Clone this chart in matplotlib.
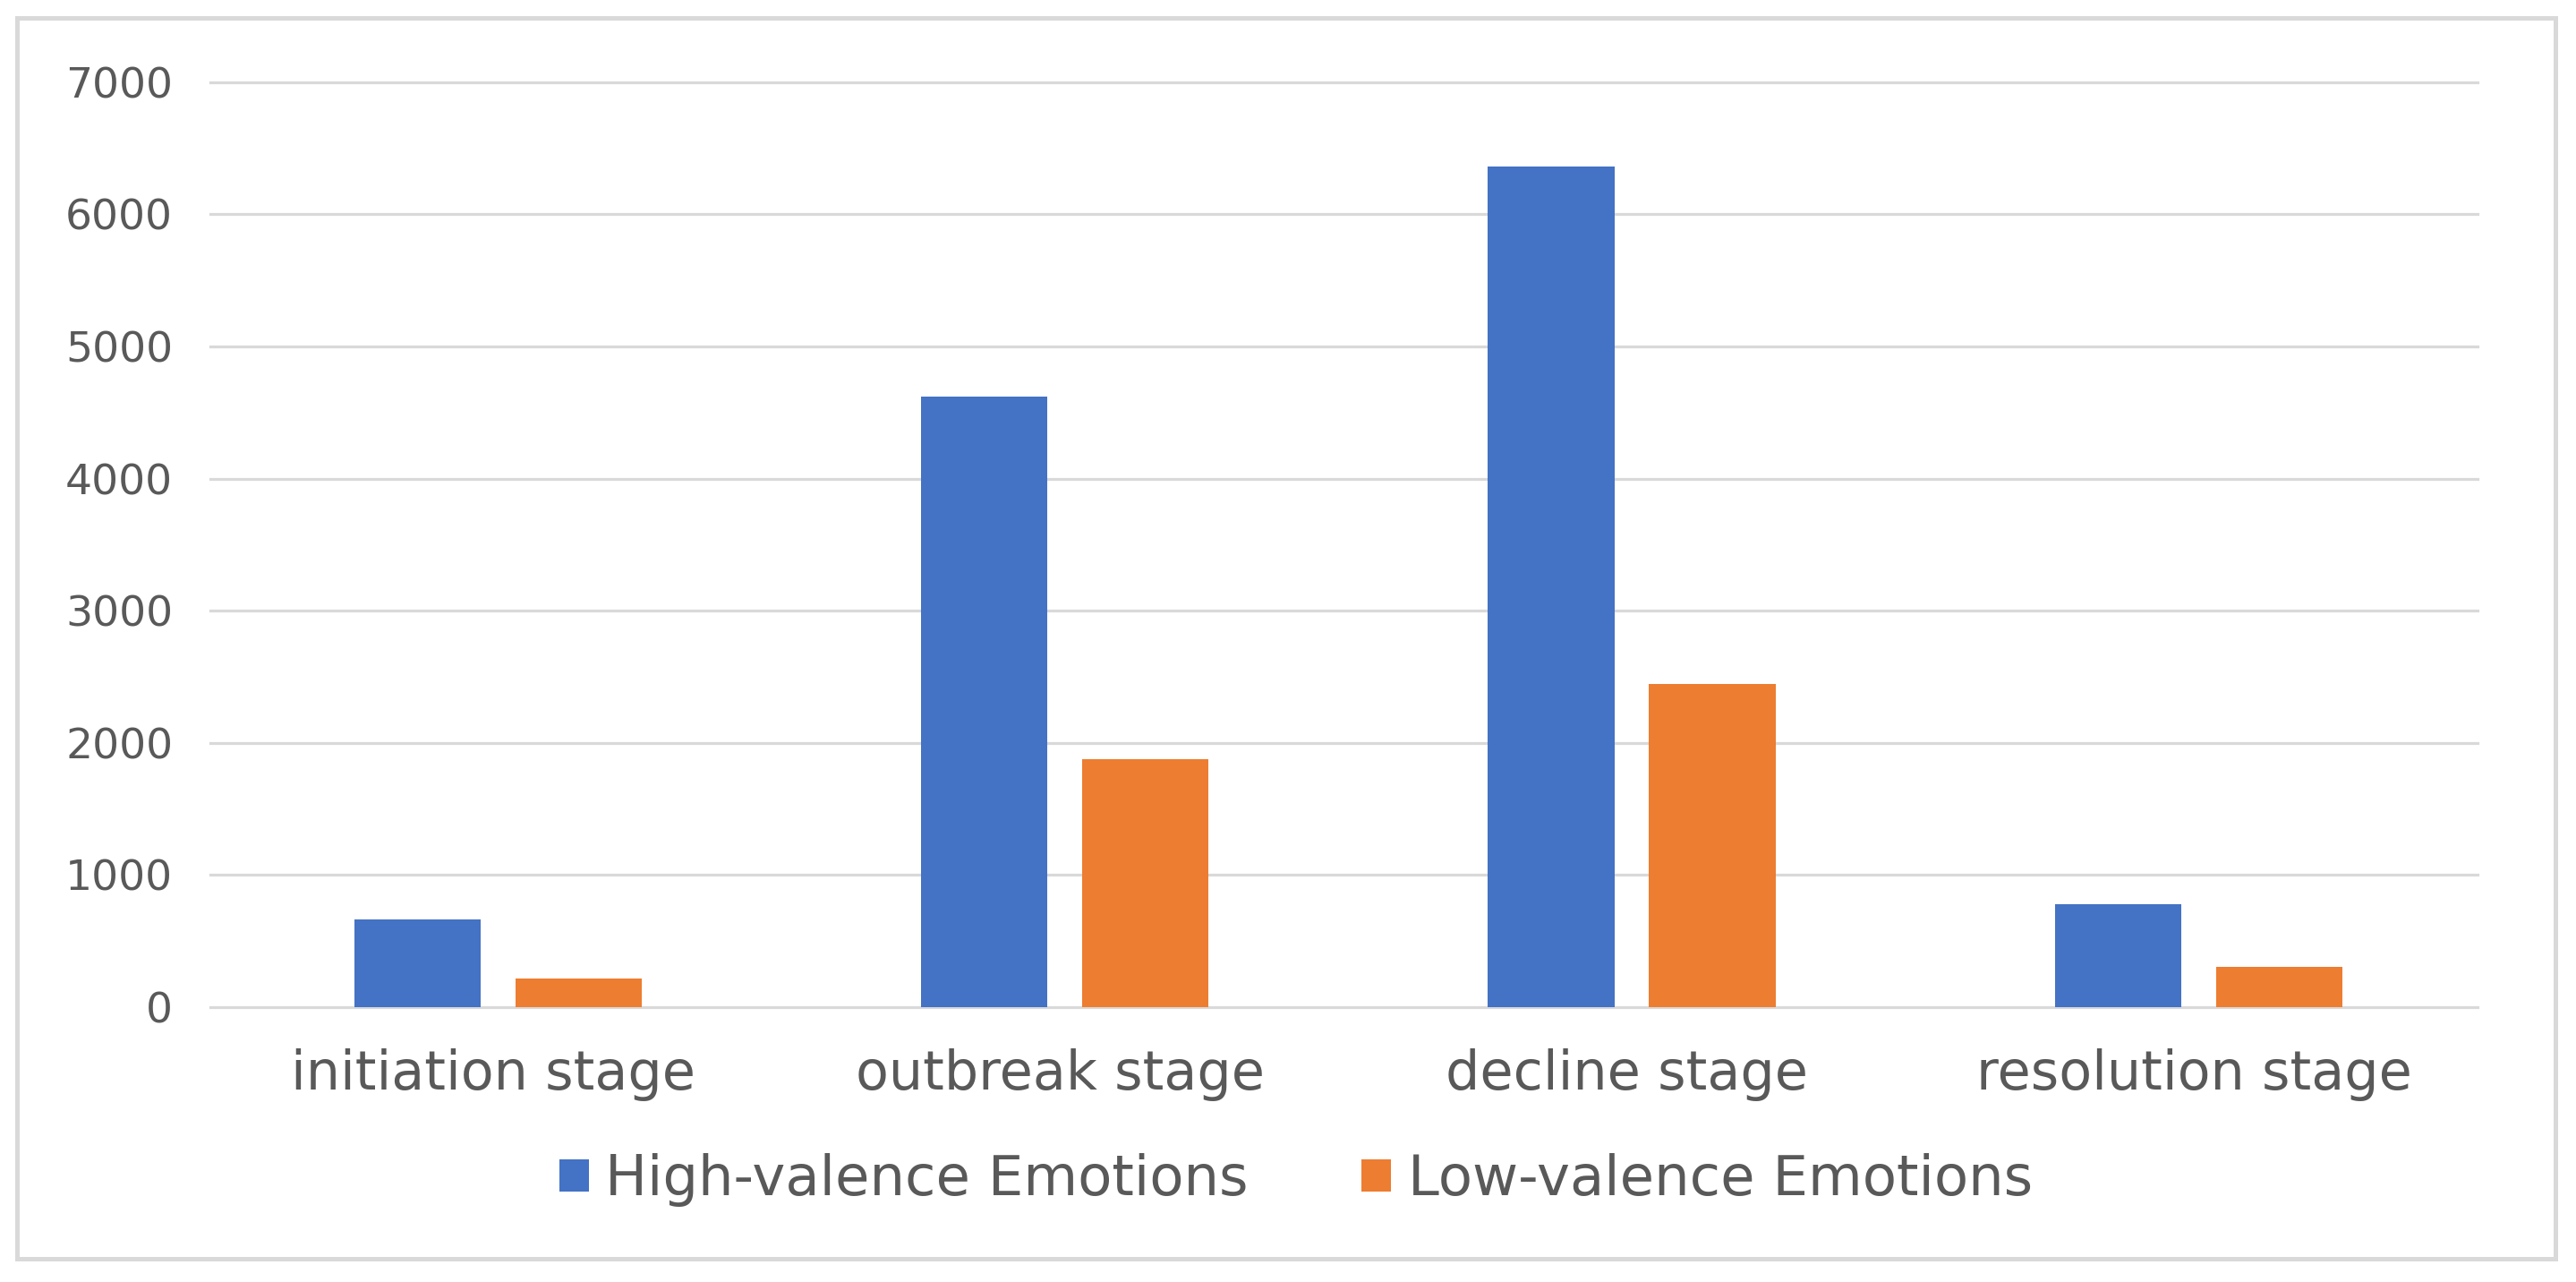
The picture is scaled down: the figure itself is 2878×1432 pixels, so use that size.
import numpy as np
import matplotlib
matplotlib.use('Agg')
import matplotlib.pyplot as plt
from matplotlib.patches import Rectangle

# data
stages = ['initiation stage', 'outbreak stage', 'decline stage', 'resolution stage']
high_valence = [664, 4622, 6364, 778]
low_valence = [219, 1876, 2443, 302]
series_names = ['High-valence Emotions', 'Low-valence Emotions']
yticks = [0, 1000, 2000, 3000, 4000, 5000, 6000, 7000]

blue = '#4472C4'
orange = '#ED7D31'
text_col = '#595959'
grid_col = '#D9D9D9'

plt.rcParams['font.family'] = ['DejaVu Sans']

fig = plt.figure(figsize=(28.78, 14.32), dpi=100)
ax = fig.add_axes([0.0816, 0.2144, 0.9617 - 0.0816, 0.936 - 0.2144])

x = np.arange(len(stages))
w = 0.223
off = 0.142
shift = 0.008  # pairs sit a touch right of the category centre
ax.bar(x - off + shift, high_valence, w, color=blue, label=series_names[0], zorder=3)
ax.bar(x + off + shift, low_valence, w, color=orange, label=series_names[1], zorder=3)

ax.set_xlim(-0.5, len(stages) - 0.5)
ax.set_ylim(0, 7000)
ax.set_yticks(yticks)
ax.set_yticklabels([str(v) for v in yticks])
ax.set_xticks(x)
ax.set_xticklabels(stages)
ax.tick_params(axis='y', length=0, pad=30, labelsize=34, labelcolor=text_col)
ax.tick_params(axis='x', length=0, pad=33, labelsize=43.5, labelcolor=text_col)

ax.yaxis.grid(True, color=grid_col, linewidth=2.3, zorder=0)
for gl in ax.get_ygridlines():
    gl.set_clip_on(False)
for s in ax.spines.values():
    s.set_visible(False)

# legend below the axis
fig.legend(loc='center', bbox_to_anchor=(0.503, 0.0795), ncol=2, frameon=False,
           fontsize=45, labelcolor=text_col, handlelength=0.53, handleheight=0.53,
           handletextpad=0.29, columnspacing=2.03)

# light grey frame round the whole chart
fig.patches.append(Rectangle((0.0067, 0.018), 0.992 - 0.0067, 0.986 - 0.018,
                             transform=fig.transFigure, fill=False,
                             edgecolor=grid_col, linewidth=3.6))

fig.savefig('out.png', dpi=100, facecolor='white')
